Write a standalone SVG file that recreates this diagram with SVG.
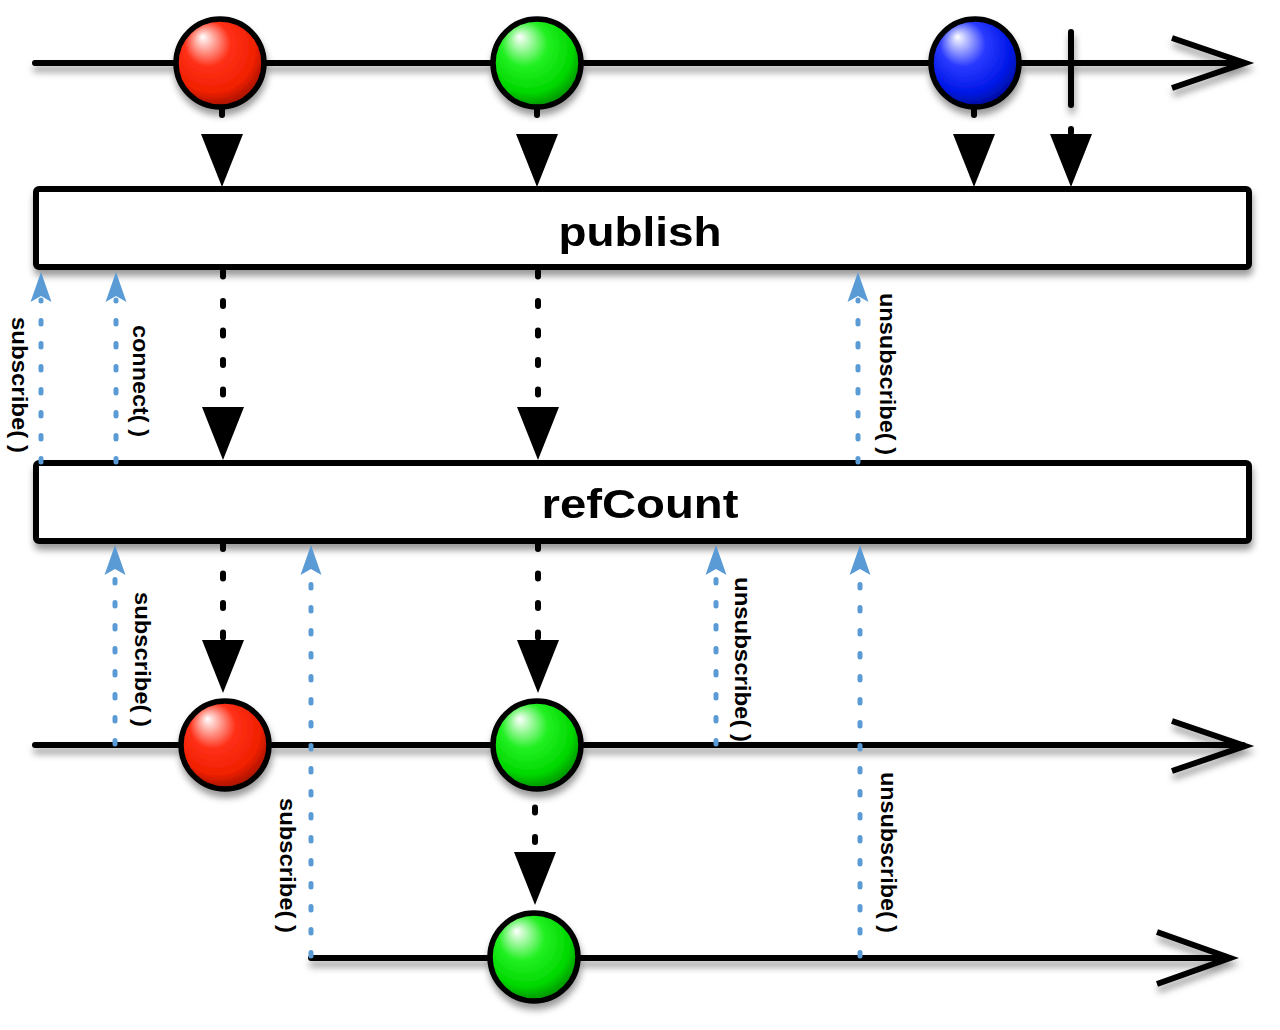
<svg xmlns="http://www.w3.org/2000/svg" xmlns:xlink="http://www.w3.org/1999/xlink" width="1280" height="1030" viewBox="0 0 1280 1030">
<style>
.line{fill:none;stroke:#000;stroke-width:6;stroke-linecap:round}
.head{fill:none;stroke:#000;stroke-width:6;stroke-linecap:butt;stroke-linejoin:miter}
.marble{stroke:#000;stroke-width:5.5}
.box{fill:#fff;stroke:#000;stroke-width:6}
.boxlabel{font-family:"Liberation Sans",Arial,sans-serif;font-weight:bold;font-size:40px;fill:#000}
.dash{fill:none;stroke:#000;stroke-width:6;stroke-linecap:round;stroke-dasharray:5 24.5}
.stub{fill:none;stroke:#000;stroke-width:6;stroke-linecap:round}
.tri{fill:#000}
.blue{fill:none;stroke:#5b9bd5;stroke-width:5;stroke-linecap:round;stroke-dasharray:3.5 19.5}
.bhead{fill:#5b9bd5}
.lbl{font-family:"Liberation Sans",Arial,sans-serif;font-weight:bold;font-size:22px;fill:#000}
</style>
<defs>
<filter id="sh" filterUnits="userSpaceOnUse" x="0" y="0" width="1280" height="1030">
<feDropShadow dx="1" dy="6" stdDeviation="3.5" flood-color="#000" flood-opacity="0.4"/>
</filter>
<radialGradient id="gRed" cx="0.45" cy="0.4" r="0.65" fx="0.3" fy="0.2">
<stop offset="0" stop-color="#ffffff"/><stop offset="0.4" stop-color="#ff3018"/><stop offset="0.75" stop-color="#f02000"/><stop offset="1" stop-color="#8a0c00"/>
</radialGradient>
<radialGradient id="gGreen" cx="0.45" cy="0.4" r="0.65" fx="0.3" fy="0.2">
<stop offset="0" stop-color="#ffffff"/><stop offset="0.4" stop-color="#22f022"/><stop offset="0.75" stop-color="#00d800"/><stop offset="1" stop-color="#007a00"/>
</radialGradient>
<radialGradient id="gBlue" cx="0.45" cy="0.4" r="0.65" fx="0.3" fy="0.2">
<stop offset="0" stop-color="#ffffff"/><stop offset="0.4" stop-color="#2a3aff"/><stop offset="0.75" stop-color="#0018e8"/><stop offset="1" stop-color="#000a80"/>
</radialGradient>
<path id="tri" d="M-21,0 L21,0 L0,53 Z" class="tri"/>
<path id="bh" d="M0,0 L10.5,30 L0,24 L-10.5,30 Z" class="bhead"/>
</defs>
<rect width="1280" height="1030" fill="#fff"/>

<g id="source-stream" filter="url(#sh)">
<line class="line" x1="35" y1="63" x2="1243" y2="63"/>
<polyline class="head" points="1172,38 1245,63 1172,88"/>
<line class="line" x1="1071" y1="32" x2="1071" y2="105"/>
<circle id="m-red-top" class="marble" cx="220" cy="63" r="44" fill="url(#gRed)"/>
<circle id="m-green-top" class="marble" cx="537" cy="63" r="44" fill="url(#gGreen)"/>
<circle id="m-blue-top" class="marble" cx="975" cy="63" r="44" fill="url(#gBlue)"/>
</g>

<g id="publish" filter="url(#sh)">
<rect class="box" x="36" y="189" width="1213" height="78" rx="3"/>
<text class="boxlabel" x="640" y="246" text-anchor="middle" textLength="163" lengthAdjust="spacingAndGlyphs">publish</text>
</g>

<g id="refCount" filter="url(#sh)">
<rect class="box" x="36" y="463" width="1213" height="78" rx="3"/>
<text class="boxlabel" x="640" y="518" text-anchor="middle" textLength="197" lengthAdjust="spacingAndGlyphs">refCount</text>
</g>

<g id="subscriber-1" filter="url(#sh)">
<line class="line" x1="35" y1="745" x2="1243" y2="745"/>
<polyline class="head" points="1172,721 1245,746 1172,771"/>
<circle id="m-red-s1" class="marble" cx="225" cy="745" r="44" fill="url(#gRed)"/>
<circle id="m-green-s1" class="marble" cx="537" cy="745" r="44" fill="url(#gGreen)"/>
</g>

<g id="subscriber-2" filter="url(#sh)">
<line class="line" x1="311" y1="958" x2="1228" y2="958"/>
<polyline class="head" points="1157,932 1230,958 1157,984"/>
<circle id="m-green-s2" class="marble" cx="534" cy="957" r="44" fill="url(#gGreen)"/>
</g>

<g id="connectors">
<line class="stub" x1="222" y1="110" x2="222" y2="115"/>
<use xlink:href="#tri" x="222" y="134"/>
<line class="stub" x1="537" y1="110" x2="537" y2="115"/>
<use xlink:href="#tri" x="537" y="134"/>
<line class="stub" x1="974" y1="110" x2="974" y2="115"/>
<use xlink:href="#tri" x="974" y="134"/>
<line class="stub" x1="1071" y1="129" x2="1071" y2="133"/>
<use xlink:href="#tri" x="1071" y="134"/>
<line class="dash" x1="223" y1="271.5" x2="223" y2="398"/>
<use xlink:href="#tri" x="223" y="407"/>
<line class="dash" x1="538" y1="271.5" x2="538" y2="398"/>
<use xlink:href="#tri" x="538" y="407"/>
<line class="dash" x1="223" y1="544" x2="223" y2="638"/>
<use xlink:href="#tri" x="223" y="640"/>
<line class="dash" x1="538" y1="544" x2="538" y2="638"/>
<use xlink:href="#tri" x="538" y="640"/>
<line class="dash" x1="535" y1="807.5" x2="535" y2="848"/>
<use xlink:href="#tri" x="535" y="852"/>
<path class="blue" d="M41,462 V300"/>
<use xlink:href="#bh" x="41" y="272"/>
<path class="blue" d="M116,462 V300"/>
<use xlink:href="#bh" x="116" y="272"/>
<path class="blue" d="M858,462 V300"/>
<use xlink:href="#bh" x="858" y="272"/>
<path class="blue" d="M115,744 V573"/>
<use xlink:href="#bh" x="115" y="545"/>
<path class="blue" d="M311,956 V573"/>
<use xlink:href="#bh" x="311" y="545"/>
<path class="blue" d="M716,744 V573"/>
<use xlink:href="#bh" x="716" y="545"/>
<path class="blue" d="M860,956 V573"/>
<use xlink:href="#bh" x="860" y="545"/>
</g>

<g id="labels">
<text class="lbl" transform="translate(11.5,317) rotate(90)" textLength="136" lengthAdjust="spacingAndGlyphs">subscribe( )</text>
<text class="lbl" transform="translate(132.5,325) rotate(90)" textLength="112" lengthAdjust="spacingAndGlyphs">connect( )</text>
<text class="lbl" transform="translate(879.5,293) rotate(90)" textLength="162" lengthAdjust="spacingAndGlyphs">unsubscribe( )</text>
<text class="lbl" transform="translate(134.5,592) rotate(90)" textLength="135" lengthAdjust="spacingAndGlyphs">subscribe( )</text>
<text class="lbl" transform="translate(734.5,577) rotate(90)" textLength="165" lengthAdjust="spacingAndGlyphs">unsubscribe( )</text>
<text class="lbl" transform="translate(279.5,798) rotate(90)" textLength="135" lengthAdjust="spacingAndGlyphs">subscribe( )</text>
<text class="lbl" transform="translate(880.5,772) rotate(90)" textLength="161" lengthAdjust="spacingAndGlyphs">unsubscribe( )</text>
</g>
</svg>
